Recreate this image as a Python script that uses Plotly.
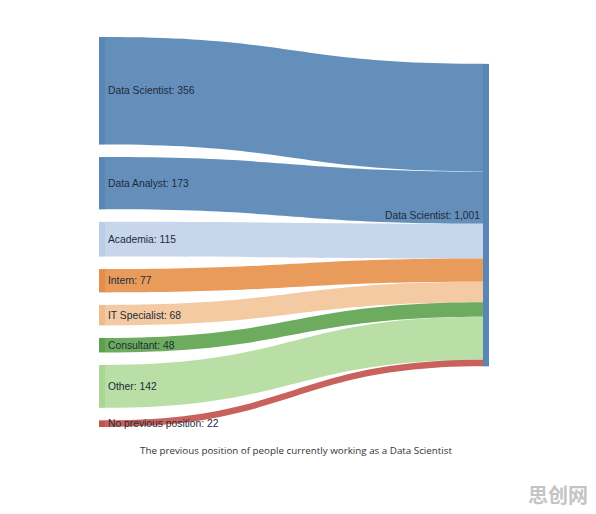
import plotly.graph_objects as go

W, H = 596, 514

sources = ["Data Scientist", "Data Analyst", "Academia", "Intern", "IT Specialist",
           "Consultant", "Other", "No previous position"]
values = [356, 173, 115, 77, 68, 48, 142, 22]
target = "Data Scientist"
node_colors = ["#5b87b5", "#5b87b5", "#bccde6", "#e58c48", "#efbd8c", "#5d9f4e", "#a9d694", "#c25450"]
link_colors = ["#658fbb", "#658fbb", "#c7d6eb", "#e99b5c", "#f3caa1", "#6dab5f", "#b9dea6", "#c9615c"]
right_color = "#5a86b6"
caption = "The previous position of people currently working as a Data Scientist"
watermark = "思创网"

# layout geometry (pixels)
X0, X1 = 99, 489
Y0, Y1 = 37, 427
PAD = 12.5
THICK = 6

total = sum(values)
labels = [f"{s}: {v:,}" for s, v in zip(sources, values)] + [f"{target}: {total:,}"]
n = len(sources)

# fixed node positions (normalized centres inside the domain) so the order is kept
dom_h = Y1 - Y0
dom_w = X1 - X0
ky = (dom_h - (n - 1) * PAD) / total
node_y = []
cur = 0.0
for v in values:
    h = v * ky
    node_y.append((cur + h / 2) / dom_h)
    cur += h + PAD
right_center = sum(c * v for c, v in zip(node_y, values)) / total
node_y.append(right_center)
node_x = [THICK / 2 / dom_w] * n + [1 - THICK / 2 / dom_w]

fig = go.Figure(go.Sankey(
    arrangement="fixed",
    domain=dict(x=[X0 / W, X1 / W], y=[1 - Y1 / H, 1 - Y0 / H]),
    node=dict(
        label=labels,
        pad=PAD,
        thickness=THICK,
        x=node_x,
        y=node_y,
        color=node_colors + [right_color],
        line=dict(width=0),
    ),
    link=dict(
        source=list(range(n)),
        target=[n] * n,
        value=values,
        color=link_colors,
        hoverinfo="skip",
    ),
    textfont=dict(family="Liberation Sans, Arial", size=10.3, color="#1e2b3a", shadow="none"),
    hoverinfo="skip",
))

fig.add_annotation(
    text=caption, x=296 / W, y=1 - 450 / H, xref="paper", yref="paper",
    showarrow=False, xanchor="center", yanchor="middle",
    font=dict(family="Open Sans", size=9.8, color="#333333"),
)
fig.add_annotation(
    text=f"<b>{watermark}</b>", x=558 / W, y=1 - 494 / H, xref="paper", yref="paper",
    showarrow=False, xanchor="center", yanchor="middle",
    font=dict(family="Noto Sans CJK SC", size=20, color="#c4c4c4"),
)

fig.update_layout(
    width=W, height=H,
    margin=dict(l=0, r=0, t=0, b=0),
    paper_bgcolor="white", plot_bgcolor="white",
    showlegend=False,
)

fig.write_html("out.html")
